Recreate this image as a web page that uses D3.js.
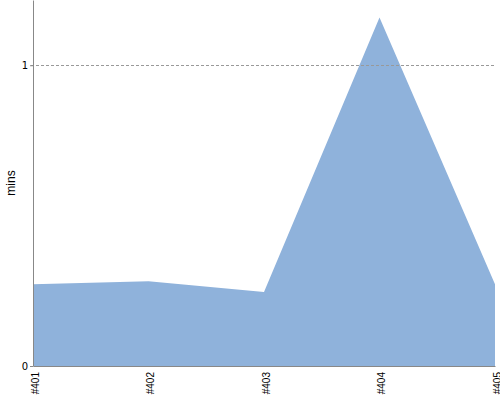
<!DOCTYPE html>
<html>
<head>
<meta charset="utf-8">
<script src="https://cdn.jsdelivr.net/npm/d3@7"></script>
<style>
  body { margin: 0; background: #fff; }
  svg { display: block; }
</style>
</head>
<body>
<div id="chart"></div>
<script>
// data
var builds = ["#401", "#402", "#403", "#404", "#405"];
var mins = [0.272, 0.282, 0.246, 1.159, 0.272];
var yTicks = [0, 1];

var w = 500;
var h = 400;
var margin = {top: 0, right: 5, bottom: 34, left: 33};
var iw = w - margin.left - margin.right;
var ih = h - margin.top - margin.bottom;

var svg = d3.select("#chart")
            .append("svg")
            .attr("width", w)
            .attr("height", h);

var g = svg.append("g")
           .attr("transform", "translate(" + margin.left + "," + margin.top + ")");

var x = d3.scalePoint()
          .domain(builds)
          .range([0, iw]);

var y = d3.scaleLinear()
          .domain([0, d3.max(mins) * 1.05])
          .range([ih, 0]);

// area
var area = d3.area()
             .x(function(d, i) { return x(builds[i]); })
             .y0(ih)
             .y1(function(d) { return y(d); });

g.append("path")
 .datum(mins)
 .attr("d", area)
 .attr("fill", "#8fb2db");

// dashed grid line(s)
g.selectAll(".grid")
 .data(yTicks.filter(function(d) { return d > 0; }))
 .enter()
 .append("line")
 .attr("class", "grid")
 .attr("x1", -2)
 .attr("x2", iw)
 .attr("y1", function(d) { return Math.round(y(d)) + 0.5; })
 .attr("y2", function(d) { return Math.round(y(d)) + 0.5; })
 .attr("stroke", "#999")
 .attr("stroke-dasharray", "3,2");

// y axis
var yAxis = g.append("g")
             .call(d3.axisLeft(y).tickValues(yTicks).tickFormat(d3.format("d"))
                     .tickSize(3).tickPadding(2).tickSizeOuter(0));
yAxis.select(".domain").attr("stroke", "#888");
yAxis.selectAll(".tick line").attr("stroke", "#888");
yAxis.selectAll("text")
     .attr("font-family", "DejaVu Sans, sans-serif")
     .attr("font-size", "10px")
     .attr("fill", "#000");

// x axis
var xAxis = g.append("g")
             .attr("transform", "translate(0," + ih + ")")
             .call(d3.axisBottom(x).tickSize(0).tickSizeOuter(0));
xAxis.select(".domain").attr("stroke", "#888");
xAxis.selectAll("text")
     .attr("font-family", "Liberation Sans, Arial, sans-serif")
     .attr("font-size", "10px")
     .attr("fill", "#000")
     .attr("text-anchor", "end")
     .attr("dy", "0.35em")
     .attr("transform", "translate(1.5,6) rotate(-90)")
     .attr("x", 0)
     .attr("y", 0);

// y label
svg.append("text")
   .attr("transform", "translate(15," + (margin.top + ih / 2) + ") rotate(-90)")
   .attr("text-anchor", "middle")
   .attr("font-family", "Liberation Sans, Arial, sans-serif")
   .attr("font-size", "12px")
   .text("mins");
</script>
</body>
</html>
